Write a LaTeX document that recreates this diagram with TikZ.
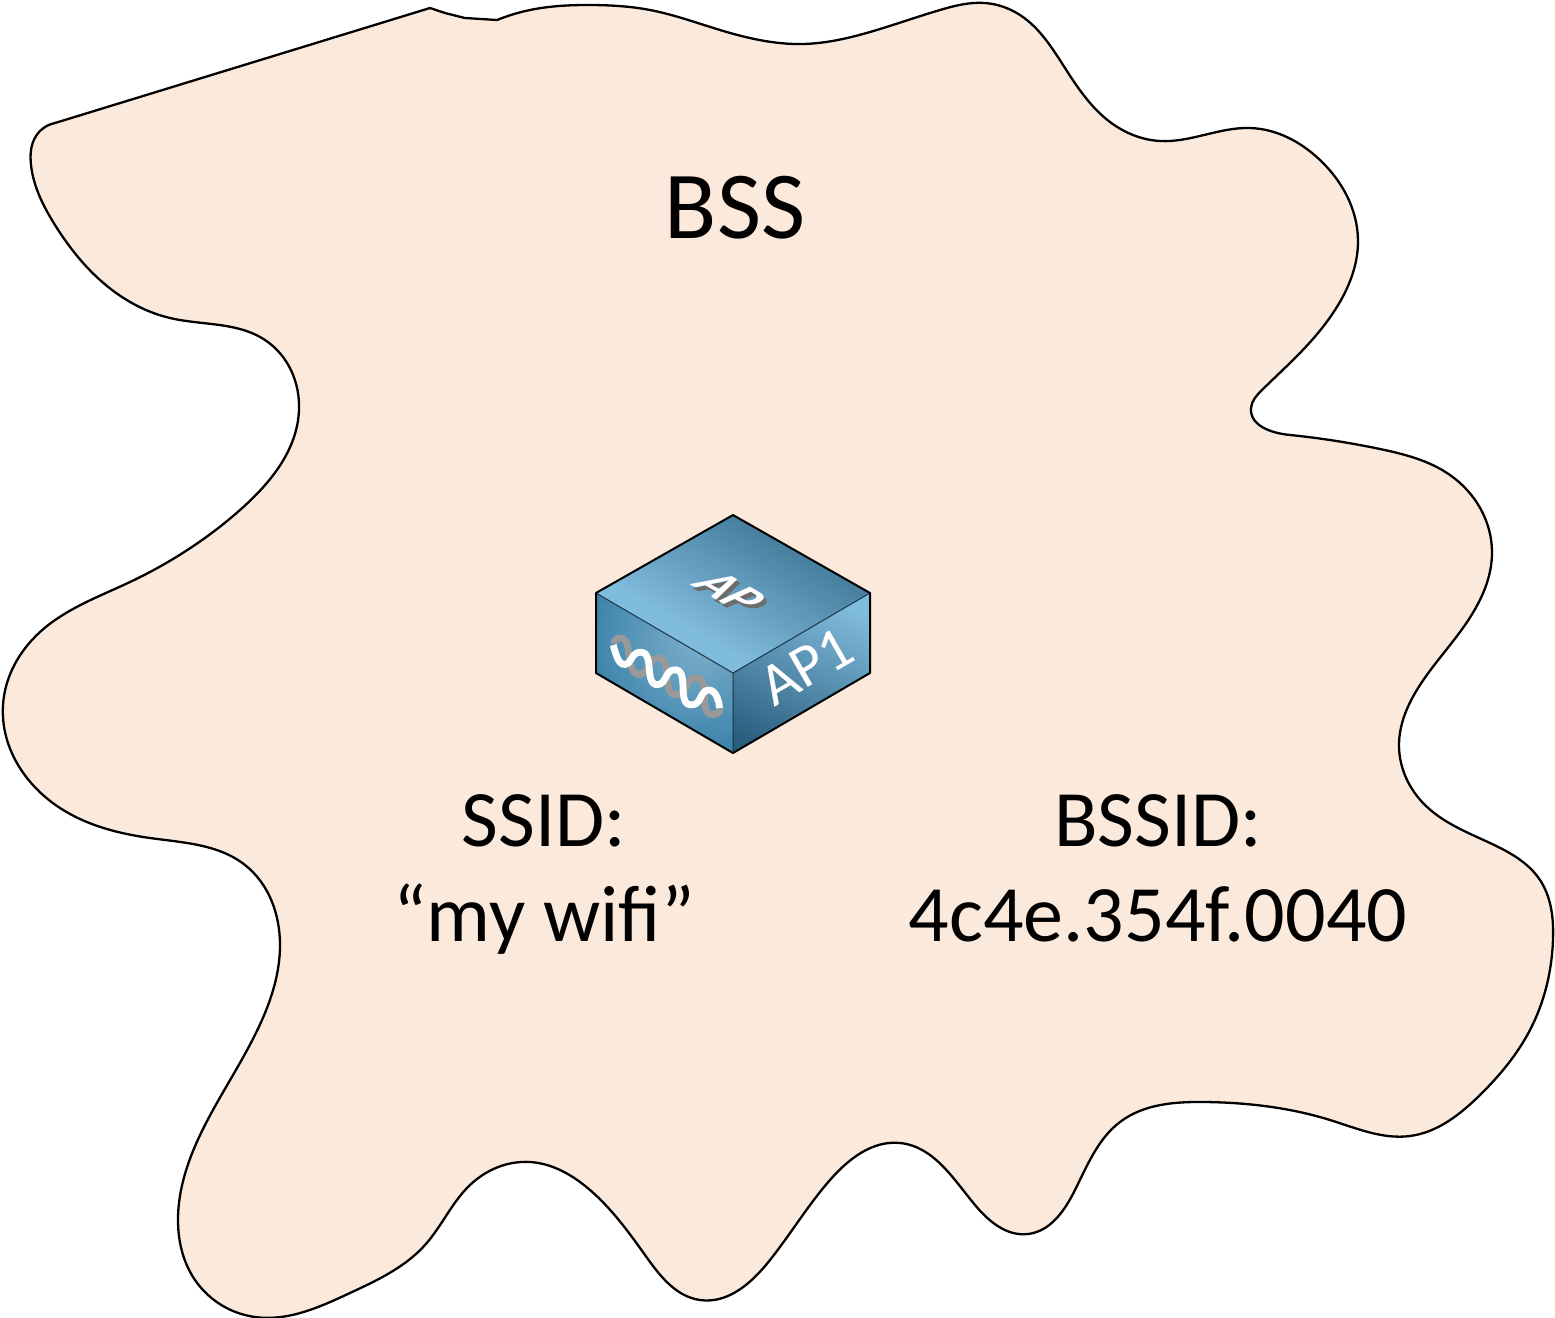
\documentclass[tikz,border=0pt]{standalone}
\usepackage{fontspec}
\usetikzlibrary{hobby}
\setmainfont{Carlito}
\definecolor{blobfill}{HTML}{FBE9DC}
\definecolor{lightblue}{HTML}{80BCDD}
\definecolor{darkblue}{HTML}{437A99}
\definecolor{leftdark}{HTML}{3C84AC}
\definecolor{leftlight}{HTML}{7FB0CB}
\definecolor{rightdark}{HTML}{2A5C7C}
\definecolor{edgeblue}{HTML}{1C3445}
\pgfdeclareverticalshading{topface}{100bp}{color(0bp)=(lightblue); color(41bp)=(lightblue); color(63bp)=(darkblue); color(100bp)=(darkblue)}
\pgfdeclareverticalshading{rightface}{100bp}{color(0bp)=(rightdark); color(35bp)=(rightdark); color(63bp)=(lightblue); color(100bp)=(lightblue)}
\tikzset{
  blob/.style={draw=black,line width=1.15pt,fill=blobfill,line join=round},
  biglabel/.style={anchor=base,font=\fontsize{48}{50}\selectfont,text=black,inner sep=0pt},
  label/.style={anchor=base,font=\fontsize{40}{42}\selectfont,text=black,inner sep=0pt},
  sidelabel/.style={anchor=base,font=\fontsize{30}{32}\selectfont,text=white,inner sep=0pt},
  toplabel/.style={anchor=base,font=\fontsize{25}{27}\selectfont\bfseries\itshape,inner sep=0pt},
  innerline/.style={draw=edgeblue,line width=.5pt},
  outerline/.style={draw=black,line width=1pt,line join=round},
  wave/.style={line width=3.4pt,line cap=butt},
}
\begin{document}
\begin{tikzpicture}[x=0.5pt,y=-0.5pt,use Hobby shortcut]
\useasboundingbox (0,0) rectangle (1555,1318);
% cloud shaped area
\draw[blob] (497,20) .. (530,10) .. (590,5) .. (650,10) .. (720,30) .. (803,44) .. (870,32) .. (940,10) .. (985,3) .. (1020,15) .. (1065,68) .. (1110,122) .. (1160,141) .. (1250,128) .. (1320,160) .. (1358,240) .. (1335,310) .. (1298,355) .. (1262,390) .. (1251,408) .. (1290,435) .. (1380,449) .. (1450,475) .. (1492,552) .. (1465,625) .. (1420,685) .. (1399,745) .. (1425,805) .. (1490,843) .. (1540,880) .. (1553,940) .. (1530,1030) .. (1480,1095) .. (1410,1136) .. (1330,1120) .. (1205,1102) .. (1120,1122) .. (1075,1190) .. (1028,1234) .. (975,1205) .. (900,1143) .. (830,1180) .. (770,1260) .. (700,1300) .. (645,1255) .. (590,1190) .. (530,1162) .. (470,1185) .. (425,1245) .. (350,1293) .. (255,1317) .. (195,1280) .. (178,1220) .. (205,1125) .. (262,1020) .. (280,945) .. (245,865) .. (150,838) .. (60,808) .. (3,705) .. (40,632) .. (130,582) .. (240,510) .. (299,410) .. (265,340) .. (170,318) .. (100,280) .. (55,225) .. (31,165) .. (36,136) .. (55,123) -- (430,8) -- (445,13) -- (465,18) -- cycle;
% top face
\begin{scope}
\clip (733,515) -- (870,593) -- (733,673) -- (596,593) -- cycle;
\shade[shading=topface,shading angle=-30] (583,444) rectangle (883,744);
\end{scope}
% left face
\begin{scope}
\clip (596,593) -- (733,673) -- (733,753) -- (596,673) -- cycle;
\shade[inner color=leftlight,outer color=leftdark] (590,530) rectangle (810,750);
\end{scope}
% right face
\begin{scope}
\clip (733,673) -- (870,593) -- (870,673) -- (733,753) -- cycle;
\shade[shading=rightface,shading angle=-25] (650,520) rectangle (950,820);
\end{scope}
% edges
\draw[innerline] (596,593) -- (733,673) -- (870,593) (733,673) -- (733,753);
\draw[outerline] (733,515) -- (870,593) -- (870,673) -- (733,753) -- (596,673) -- (596,593) -- cycle;
% antenna wave
\draw[wave,draw=gray!80] (614,644) .. (620,638) .. (628,648) .. (641.7,674) .. (656.7,658.3) .. (679.3,694.3) .. (693.3,678.3) .. (715,714.3) .. (720,706);
\draw[wave,draw=white] (613.3,645) .. (617,657) .. (625,664.5) .. (636.7,653) .. (658.3,684.5) .. (673,670) .. (694,704.5) .. (708,690) .. (717,697) .. (719.5,708);
% labels
\node[toplabel,text=gray!85!black,cm={.866,-.5,.866,.5,(0,0)}] (apshadow) at (719,604) {AP};
\node[toplabel,text=white,cm={.866,-.5,.866,.5,(0,0)}] (ap) at (716,600) {AP};
\node[sidelabel,rotate=30] (ap1) at (816,683) {AP1};
\node[biglabel] (bss) at (735,238) {BSS};
\node[label] (ssid) at (544,846) {SSID:};
\node[label] (name) at (544,941) {“my wifi”};
\node[label] (bssid) at (1158,846) {BSSID:};
\node[label] (mac) at (1158,941) {4c4e.354f.0040};
\end{tikzpicture}
\end{document}
